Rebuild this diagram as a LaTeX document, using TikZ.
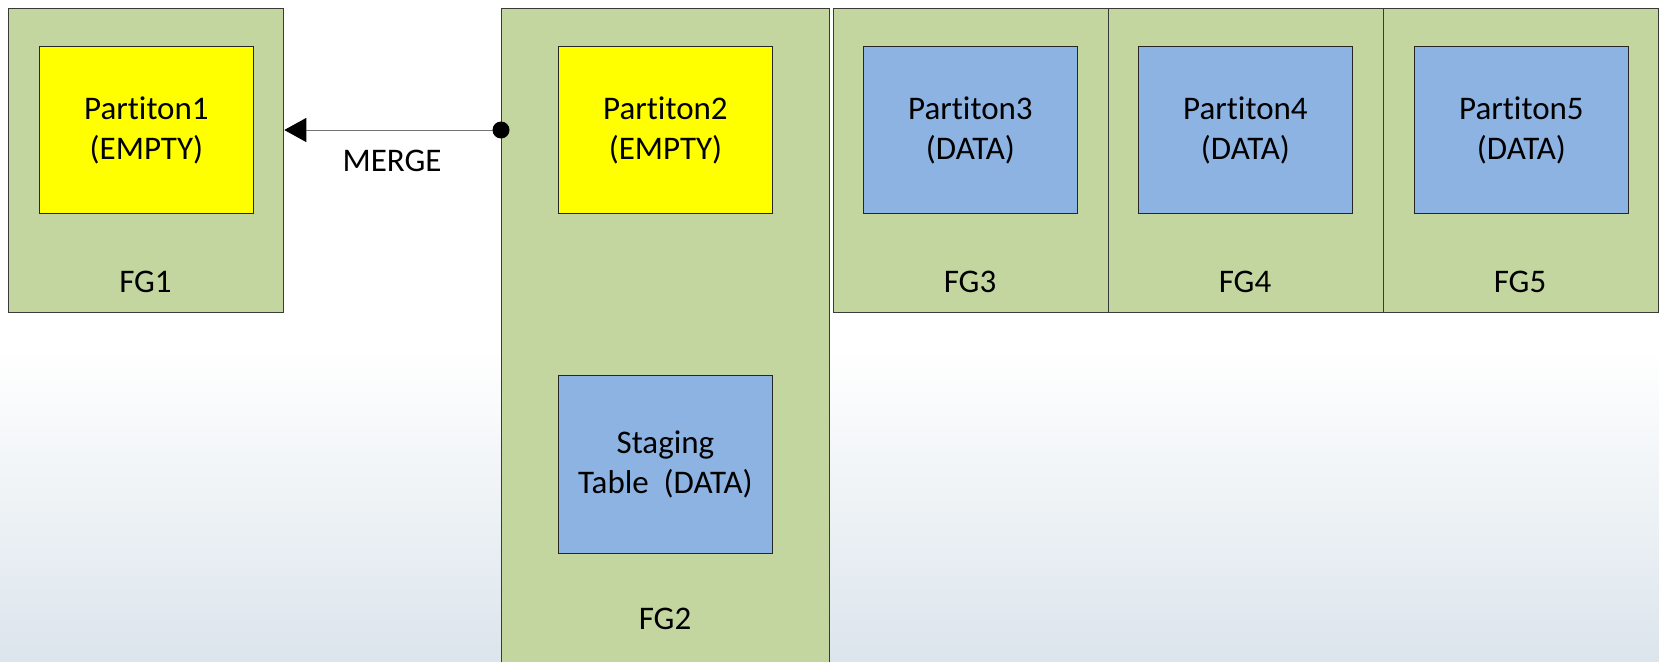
\documentclass[tikz,border=0pt]{standalone}
\usepackage{fontspec}
\setmainfont{Carlito}[Ligatures={NoCommon,NoContextual}]
\usetikzlibrary{arrows.meta}
\definecolor{fggreen}{HTML}{C4D6A0}
\definecolor{datablue}{HTML}{8DB3E2}
\definecolor{emptyyellow}{HTML}{FFFF00}
\definecolor{bgbottom}{HTML}{DCE5EC}
\definecolor{edgegray}{HTML}{3A3A3A}
\begin{document}
\begin{tikzpicture}[x=1pt,y=-1pt,
  txt/.style={font=\fontsize{33}{40}\selectfont, text=black, align=center, inner sep=0pt},
  fgbox/.style={draw=edgegray, line width=1.3pt, fill=fggreen, anchor=north west, inner sep=0pt},
  partbox/.style={txt, draw=black!85, line width=0.9pt, anchor=north west,
    minimum width=214pt, minimum height=167pt},
  emptypart/.style={partbox, fill=emptyyellow},
  datapart/.style={partbox, fill=datablue},
  merge/.style={draw=black!55, line width=1pt, -{Triangle[length=22pt,width=24pt,color=black]}}
]
% page and soft backdrop
\useasboundingbox (0,0) rectangle (1659,661);
\fill[white] (0,0) rectangle (1659,661);
\shade[top color=white, bottom color=bgbottom] (0,350) rectangle (1659,661);

% filegroups
\node[fgbox, minimum width=275pt, minimum height=304pt] (fg1) at (8,8) {};
\node[fgbox, minimum width=328pt, minimum height=680pt] (fg2) at (501,8) {};
\node[fgbox, minimum width=275pt, minimum height=304pt] (fg3) at (833,8) {};
\node[fgbox, minimum width=275pt, minimum height=304pt] (fg4) at (1108,8) {};
\node[fgbox, minimum width=275pt, minimum height=304pt] (fg5) at (1383,8) {};

% filegroup names
\node[txt] (fg1name) at (145.5,282) {FG1};
\node[txt] (fg2name) at (665,619) {FG2};
\node[txt] (fg3name) at (970,282) {FG3};
\node[txt] (fg4name) at (1245,282) {FG4};
\node[txt] (fg5name) at (1520,282) {FG5};

% partitions
\node[emptypart] (p1) at (39,46) {Partiton1\\(EMPTY)};
\node[emptypart] (p2) at (558,46) {Partiton2\\(EMPTY)};
\node[datapart] (p3) at (863,46) {Partiton3\\(DATA)};
\node[datapart] (p4) at (1138,46) {Partiton4\\(DATA)};
\node[datapart] (p5) at (1414,46) {Partiton5\\(DATA)};
\node[datapart, minimum height=178pt] (stage) at (558,375) {Staging\\Table\ \ (DATA)};

% merge connector
\coordinate (mergefrom) at (fg2.west |- 0,130);
\coordinate (mergeto) at (fg1.east |- 0,130);
\draw[merge] (mergefrom) -- (mergeto);
\fill[black] (mergefrom) circle (8.5pt);
\node[txt] (mergelabel) at (392,161) {MERGE};
\end{tikzpicture}
\end{document}
